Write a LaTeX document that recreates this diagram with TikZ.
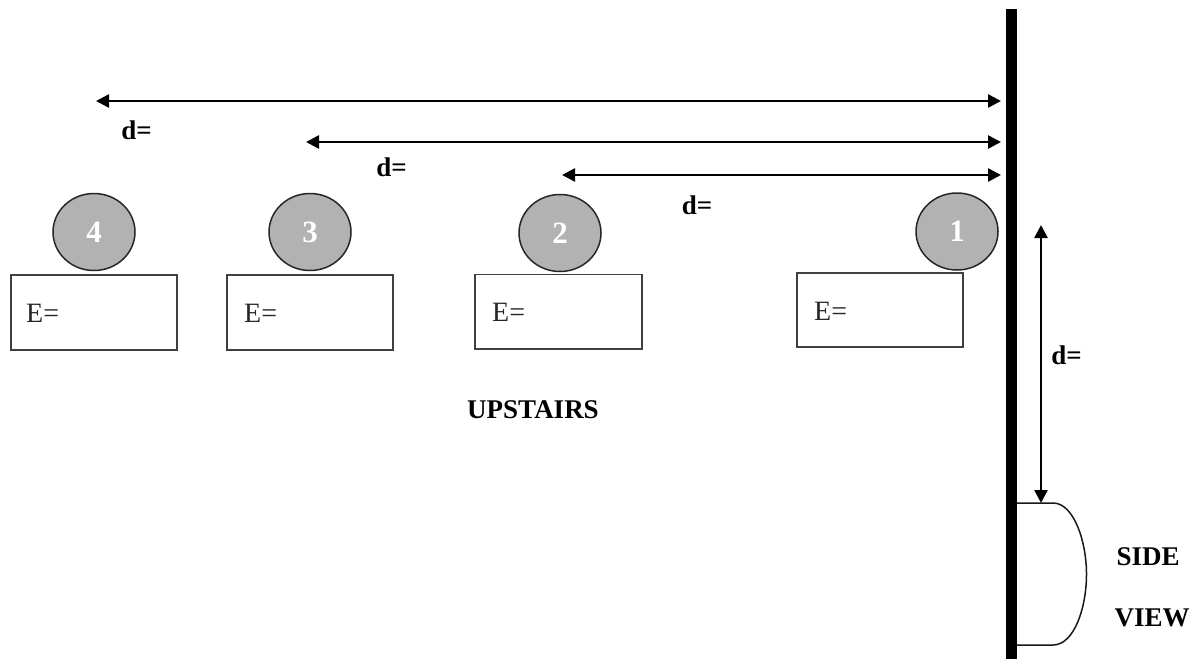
\documentclass[tikz,border=0pt]{standalone}
\usepackage{fontspec}
\setmainfont{Liberation Serif}
\usetikzlibrary{arrows.meta,shapes.geometric}
\tikzset{
  x=1pt,y=-1pt,
  ball/.style={ellipse,draw=black!85,line width=1.5pt,fill=black!30,minimum width=82pt,minimum height=77pt,inner sep=0pt,text=white,font=\fontsize{31}{31}\selectfont\bfseries},
  ebox/.style={rectangle,draw=black!75,line width=1.6pt,fill=white,minimum width=166.5pt,minimum height=74.5pt,inner sep=0pt},
  etext/.style={inner sep=0pt,anchor=base west,text=black!85,font=\fontsize{28}{28}\selectfont},
  dtext/.style={inner sep=0pt,font=\fontsize{27}{27}\selectfont\bfseries},
  capt/.style={inner sep=0pt,font=\fontsize{27}{27}\selectfont\bfseries},
  wall/.style={rectangle,fill=black,minimum width=11pt,minimum height=650pt,inner sep=0pt},
  dist/.style={{Triangle[length=13pt,width=13pt]}-{Triangle[length=13pt,width=13pt]},line width=2.6pt,black},
}
\begin{document}
\begin{tikzpicture}
\useasboundingbox (0,0) rectangle (1196,659);
\node[wall] (wall) at (1011.5,334) {};
\node[ball] (b4) at (94,232) {4};
\node[ball] (b3) at (310,232) {3};
\node[ball] (b2) at (560,233) {2};
\node[ball] (b1) at (957,231.5) {1};
\node[ebox] (e4) at (94,312.5) {};
\node[ebox] (e3) at (310,312.5) {};
\node[ebox] (e2) at (558.5,311.75) {};
\node[ebox] (e1) at (880,310) {};
\node[etext] (t4) at (26,322) {E=};
\node[etext] (t3) at (244,322) {E=};
\node[etext] (t2) at (492,321) {E=};
\node[etext] (t1) at (814,320) {E=};
\coordinate (a4) at (96,101);
\coordinate (a3) at (306,142);
\coordinate (a2) at (562,175);
\coordinate (w4) at (1001,101);
\coordinate (w3) at (1001,142);
\coordinate (w2) at (1001,175);
\coordinate (vt) at (1041,225);
\coordinate (vb) at (1041,503);
\draw[dist] (a4) -- (w4);
\draw[dist] (a3) -- (w3);
\draw[dist] (a2) -- (w2);
\draw[dist] (vt) -- (vb);
\node[dtext] (d4) at (136.5,130) {d=};
\node[dtext] (d3) at (391.5,167) {d=};
\node[dtext] (d2) at (697,205) {d=};
\node[dtext] (d1) at (1066.5,355) {d=};
\coordinate (st) at (1017,503);
\coordinate (sb) at (1017,645);
\draw[black!90,line width=1.5pt] (st) -- (1053,503) .. controls (1074,503) and (1086.5,542) .. (1086.5,574) .. controls (1086.5,608) and (1074,645) .. (1053,645) -- (sb);
\node[capt] (up) at (533,410) {UPSTAIRS};
\node[capt] (side) at (1148,556.5) {SIDE};
\node[capt] (view) at (1152,618) {VIEW};
\end{tikzpicture}
\end{document}
